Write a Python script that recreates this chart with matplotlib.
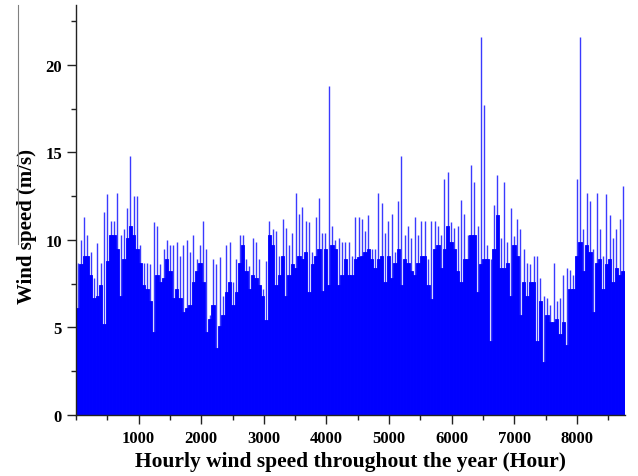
import matplotlib
matplotlib.use("Agg")
import matplotlib.pyplot as plt
import numpy as np
from matplotlib.ticker import MultipleLocator
from matplotlib.lines import Line2D

plt.rcParams['font.family'] = ['Liberation Serif', 'DejaVu Serif']
plt.rcParams['font.weight'] = 'bold'

# Upper envelope (spike tops) of the hourly wind speed, read left to right (m/s)
peak_speed = [
    8.7, 10.0, 11.3, 10.3, 9.3, 7.8, 9.8, 8.7, 11.6, 12.6, 11.1, 11.1, 12.7, 10.3,
    10.6, 11.8, 14.8, 12.5, 12.5, 9.7, 8.7, 8.7, 8.6, 11.0, 10.8, 8.6, 9.5, 10.0,
    9.7, 9.7, 9.9, 9.1, 9.7, 10.0, 9.3, 10.3, 8.9, 9.7, 11.1, 9.5, 5.7, 8.9,
    8.6, 9.0, 6.8, 9.7, 9.9, 7.6, 8.9, 10.3, 10.3, 8.9, 8.5, 10.1, 9.9, 8.9, 7.2,
    8.8, 11.1, 10.6, 10.5, 9.1, 11.2, 10.7, 9.7, 10.4, 12.7, 11.5, 11.9, 11.1, 11.0,
    9.3, 11.3, 12.4, 10.4, 10.4, 18.8, 10.8, 10.0, 10.1, 9.9, 9.9, 9.9, 9.1, 11.3, 11.3,
    11.2, 10.5, 11.4, 9.5, 9.5, 12.7, 12.1, 10.4, 11.1, 11.5, 9.3, 12.2, 14.8, 10.3,
    10.8, 10.1, 11.3, 10.3, 11.1, 11.1, 8.9, 11.1, 11.1, 10.8, 10.3, 13.5, 13.9, 11.0, 10.7,
    10.8, 12.3, 11.5, 10.3, 14.3, 13.3, 10.8, 21.6, 17.7, 9.7, 8.9, 12.0, 13.7, 10.1,
    13.3, 9.9, 11.8, 10.2, 11.2, 10.6, 9.5, 8.7, 8.6, 9.1, 9.1, 7.8, 6.8, 6.7, 6.3,
    8.65, 6.5, 6.7, 8.0, 8.4, 8.3, 8.0, 13.5, 21.6, 10.6, 12.7, 12.2, 9.5, 12.7,
    10.6, 9.1, 12.6, 11.4, 10.1, 10.6, 11.2, 13.1,
]

# Lower envelope (solid body) of the hourly wind speed, same sampling (m/s)
base_speed = [
    6.1, 8.6, 9.1, 9.1, 8.0, 6.7, 6.8, 7.4, 5.2, 8.8, 10.3, 10.3, 9.5, 6.8,
    8.9, 10.1, 10.8, 10.3, 9.5, 8.7, 7.4, 7.2, 6.5, 4.75, 8.0, 7.6, 7.8, 8.9,
    8.2, 6.7, 7.2, 6.7, 5.9, 6.1, 6.3, 7.6, 8.2, 8.7, 7.6, 4.75, 5.5, 6.3,
    3.8, 5.1, 5.7, 7.0, 7.6, 6.3, 7.0, 8.7, 9.7, 8.2, 7.2, 8.0, 7.8, 7.4, 6.8,
    5.4, 10.3, 9.7, 7.4, 8.0, 9.1, 6.8, 8.0, 8.6, 8.4, 9.1, 8.9, 9.3, 7.0,
    8.6, 9.1, 9.5, 7.1, 9.5, 7.4, 9.7, 9.5, 7.4, 8.0, 8.9, 8.0, 8.0, 8.9, 9.0,
    9.1, 9.3, 9.5, 8.9, 8.4, 8.9, 9.1, 7.6, 9.1, 7.8, 8.7, 9.5, 7.4, 8.9,
    8.7, 8.2, 8.0, 8.7, 9.1, 9.1, 7.4, 6.6, 9.5, 9.7, 8.4, 9.5, 10.8, 9.9, 9.5,
    8.2, 7.6, 8.9, 8.9, 10.3, 10.3, 7.0, 8.6, 8.9, 8.9, 4.2, 9.5, 11.4, 8.4,
    8.4, 8.7, 6.8, 9.7, 9.1, 5.7, 7.6, 6.8, 7.6, 7.6, 4.2, 6.5, 3.0, 5.7, 5.3,
    5.3, 5.5, 4.6, 5.3, 4.0, 7.2, 7.2, 9.1, 9.9, 8.2, 9.7, 9.3, 5.9, 8.7,
    8.9, 7.2, 8.6, 8.9, 7.6, 8.4, 8.0, 8.2,
]

total_hours = 8760
x_ticks = [1000, 2000, 3000, 4000, 5000, 6000, 7000, 8000]
y_ticks = [0, 5, 10, 15, 20]

n = len(peak_speed)
step = total_hours / n
hours = (np.arange(n) + 0.5) * step

fig = plt.figure(figsize=(6.38, 4.77), dpi=100)
ax = fig.add_axes([0.119, 0.128, 0.86, 0.859])

blue = '#0000ff'
ax.vlines(hours, 0, peak_speed, color='#3a3aff', linewidth=1.0, zorder=1)
ax.bar(hours, base_speed, width=step, color=blue, edgecolor=blue,
       linewidth=0.6, align='center', zorder=2)

ax.set_xlim(0, total_hours)
ax.set_ylim(0, 23.4)
ax.set_xticks(x_ticks)
ax.set_yticks(y_ticks)
ax.xaxis.set_minor_locator(MultipleLocator(500))
ax.yaxis.set_minor_locator(MultipleLocator(2.5))

for s in ['top', 'right']:
    ax.spines[s].set_visible(False)
for s in ['left', 'bottom']:
    ax.spines[s].set_linewidth(1.0)
    ax.spines[s].set_color('#222222')
    ax.spines[s].set_zorder(3)

ax.tick_params(which='major', direction='out', length=6.5, width=1.0, labelsize=12, pad=3.5, colors='#222222')
ax.tick_params(which='minor', direction='out', length=3.6, width=1.0, colors='#222222')
ax.tick_params(axis='x', which='major', pad=4)
for lbl in ax.get_xticklabels() + ax.get_yticklabels():
    lbl.set_fontweight('bold')
    lbl.set_color('black')

ax.set_xlabel('Hourly wind speed throughout the year (Hour)', fontsize=15.5, fontweight='bold', labelpad=4)
ax.set_ylabel('Wind speed (m/s)', fontsize=15, fontweight='bold')
ax.yaxis.set_label_coords(-0.071, 0.463)

# faint vertical line at the far left of the original figure
fig.add_artist(Line2D([18 / 638, 18 / 638], [1 - 6 / 477, 1 - 245 / 477],
                      transform=fig.transFigure, color='#808080', linewidth=0.8))

fig.savefig('out.png', dpi=100)
